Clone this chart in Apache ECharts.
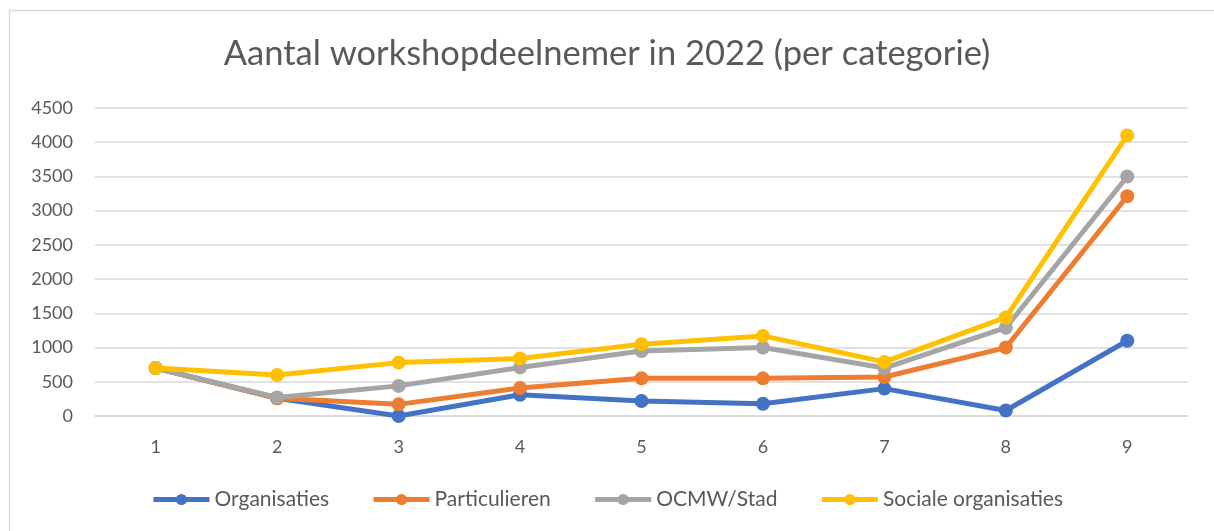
<!DOCTYPE html>
<html>
<head>
<meta charset="utf-8">
<script src="https://cdn.jsdelivr.net/npm/echarts@6/dist/echarts.min.js"></script>
<style>
html,body{margin:0;padding:0;background:#fff;}
#c{width:1214px;height:531px;}
</style>
</head>
<body>
<div id="c"></div>
<script>
const categories = ['1','2','3','4','5','6','7','8','9'];
const organisaties = [700, 260, 0, 310, 220, 180, 400, 80, 1100];
const particulieren = [700, 260, 170, 410, 550, 550, 570, 1000, 3210];
const ocmwStad = [700, 270, 440, 710, 950, 1000, 700, 1290, 3500];
const socialeOrganisaties = [700, 600, 780, 840, 1050, 1170, 790, 1440, 4100];
const seriesNames = ['Organisaties', 'Particulieren', 'OCMW/Stad', 'Sociale organisaties'];
const seriesColors = ['#4472C4', '#ED7D31', '#A5A5A5', '#FFC000'];
const seriesData = [organisaties, particulieren, ocmwStad, socialeOrganisaties];

const FONT = 'Lato, "Open Sans", sans-serif';
const chart = echarts.init(document.getElementById('c'));
chart.setOption({
  animation: false,
  backgroundColor: '#fff',
  title: {
    text: 'Aantal workshopdeelnemer in 2022 (per categorie)',
    left: 'center',
    top: 31,
    textStyle: {fontFamily: FONT, fontSize: 34.5, fontWeight: 'normal', color: '#595959'}
  },
  graphic: [{
    type: 'rect',
    left: 7, top: 8,
    shape: {width: 1230, height: 540},
    style: {fill: 'none', stroke: '#d9d9d9', lineWidth: 1.5},
    silent: true
  }],
  legend: {
    bottom: 16,
    left: 'center',
    itemWidth: 56,
    itemHeight: 14,
    itemGap: 42,
    lineStyle: {width: 5},
    textStyle: {fontFamily: FONT, fontSize: 21, color: '#595959'},
    data: seriesNames
  },
  grid: {left: 95, right: 26, top: 108, bottom: 115, containLabel: false},
  xAxis: {
    type: 'category',
    data: categories,
    boundaryGap: true,
    axisLine: {lineStyle: {color: '#d9d9d9', width: 1.5}},
    axisTick: {show: false},
    axisLabel: {fontFamily: FONT, fontSize: 18, color: '#595959', margin: 22}
  },
  yAxis: {
    type: 'value',
    min: 0, max: 4500, interval: 500,
    axisLine: {show: false},
    axisTick: {show: false},
    splitLine: {lineStyle: {color: '#d9d9d9', width: 1.5}},
    axisLabel: {fontFamily: FONT, fontSize: 18, color: '#595959', margin: 22, formatter: v => String(v)}
  },
  series: seriesNames.map((n, i) => ({
    name: n,
    type: 'line',
    data: seriesData[i],
    symbol: 'circle',
    symbolSize: 14,
    lineStyle: {width: 5, color: seriesColors[i]},
    itemStyle: {color: seriesColors[i]},
    z: 2 + i
  }))
});
</script>
</body>
</html>
